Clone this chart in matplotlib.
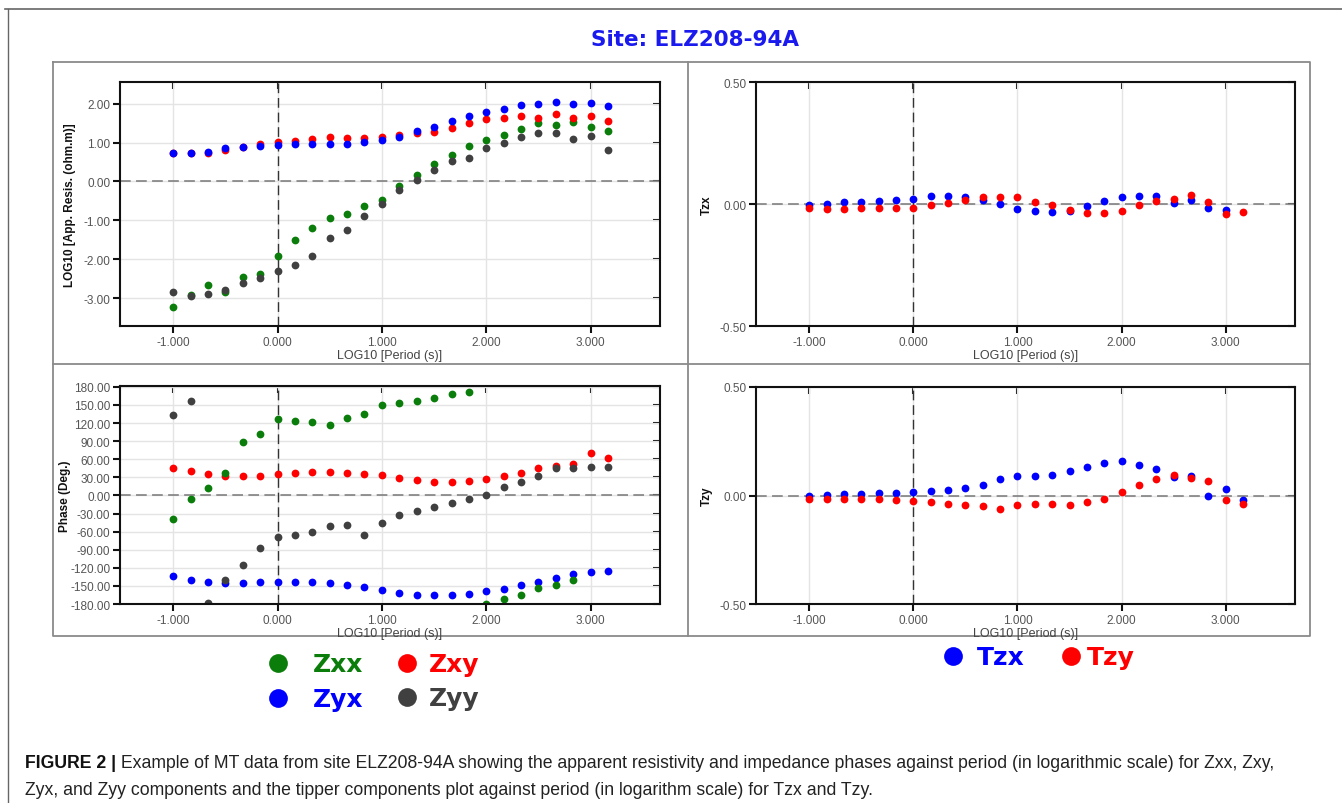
import matplotlib
matplotlib.use('Agg')
import matplotlib.pyplot as plt
import numpy as np

nan = np.nan

# log10 period (s)
period = [-1.0, -0.833, -0.667, -0.5, -0.333, -0.167, 0.0, 0.167, 0.333, 0.5,
          0.667, 0.833, 1.0, 1.167, 1.333, 1.5, 1.667, 1.833, 2.0, 2.167,
          2.333, 2.5, 2.667, 2.833, 3.0, 3.167]

# log10 apparent resistivity
rho_zxx = [-3.23, -2.91, -2.66, -2.85, -2.45, -2.38, -1.91, -1.50, -1.20, -0.94,
           -0.84, -0.64, -0.47, -0.11, 0.17, 0.44, 0.68, 0.90, 1.07, 1.20,
           1.34, 1.50, 1.44, 1.54, 1.41, 1.30]
rho_zxy = [0.72, 0.72, 0.74, 0.81, 0.88, 0.96, 1.02, 1.05, 1.10, 1.15,
           1.12, 1.12, 1.15, 1.19, 1.24, 1.28, 1.38, 1.49, 1.60, 1.62,
           1.67, 1.62, 1.73, 1.64, 1.68, 1.56]
rho_zyx = [0.72, 0.72, 0.76, 0.85, 0.89, 0.90, 0.94, 0.95, 0.97, 0.97,
           0.97, 1.02, 1.06, 1.15, 1.29, 1.41, 1.56, 1.68, 1.79, 1.87,
           1.96, 1.98, 2.03, 1.98, 2.01, 1.94]
rho_zyy = [-2.85, -2.94, -2.90, -2.79, -2.61, -2.49, -2.31, -2.15, -1.91, -1.46,
           -1.26, -0.90, -0.59, -0.23, 0.04, 0.29, 0.52, 0.61, 0.85, 0.99,
           1.15, 1.24, 1.24, 1.09, 1.17, 0.82]

# phase (deg)
ph_zxx = [-39, -5.5, 11.6, 37.5, 88, 102, 126, 124, 121, 117,
          128, 135, 150, 153.5, 156, 162, 169, 171, -180, -172,
          -165, -153.5, -149, -141, nan, nan]
ph_zxy = [46, 41, 36, 33, 32, 32, 36, 36.5, 39, 39,
          37.5, 36, 34, 29, 25, 22.6, 22.6, 24, 28, 32,
          36.5, 45, 48.6, 52, 71, 62]
ph_zyx = [-134, -140, -143.6, -146, -146, -143.6, -143.6, -143.6, -143.6, -145,
          -148.5, -151, -156, -161, -165.6, -165.6, -165.6, -163, -158.5, -154.6,
          -149, -143, -137.5, -131, -127, -125]
ph_zyy = [133, 156, -178, -140, -115, -87, -69, -66, -61, -51,
          -48.6, -65, -46, -32.6, -25.4, -18.8, -12, -6.6, 1, 14,
          23, 32.6, 45, 45, 47.5, 47.5]

# tipper
tzx_blue = [-0.003, 0.001, 0.007, 0.010, 0.014, 0.018, 0.019, 0.031, 0.034, 0.030,
            0.018, -0.001, -0.021, -0.027, -0.034, -0.027, -0.010, 0.014, 0.027, 0.034,
            0.031, 0.004, 0.016, -0.018, -0.023, nan]
tzx_red = [-0.018, -0.021, -0.022, -0.018, -0.018, -0.018, -0.018, -0.004, 0.003, 0.018,
           0.030, 0.027, 0.027, 0.010, -0.004, -0.025, -0.037, -0.037, -0.027, -0.004,
           0.014, 0.021, 0.037, 0.010, -0.041, -0.034]
tzy_blue = [-0.003, 0.003, 0.005, 0.008, 0.012, 0.012, 0.015, 0.020, 0.025, 0.035,
            0.050, 0.074, 0.088, 0.091, 0.095, 0.114, 0.132, 0.152, 0.160, 0.140,
            0.121, 0.086, 0.089, -0.003, 0.028, -0.022]
tzy_red = [-0.015, -0.015, -0.015, -0.015, -0.015, -0.020, -0.025, -0.031, -0.038, -0.045,
           -0.049, -0.060, -0.046, -0.038, -0.038, -0.046, -0.031, -0.015, 0.015, 0.049,
           0.075, 0.094, 0.080, 0.068, -0.020, -0.040]

xticks = [-1, 0, 1, 2, 3]
GREEN, RED, BLUE, GREY = '#0a7d0a', '#ff0000', '#0000ff', '#404040'

W, H = 1342, 804
fig = plt.figure(figsize=(W / 100, H / 100), dpi=100)
plt.rcParams['font.family'] = ['Liberation Sans', 'DejaVu Sans']


def px(l, t, r, b):
    return [l / W, 1 - b / H, (r - l) / W, (b - t) / H]


def style(ax, ylim, yticks, yfmt, ylabel, label_x):
    ax.set_xlim(-1.51, 3.665)
    ax.set_ylim(*ylim)
    ax.set_xticks(xticks)
    ax.set_xticklabels(['%.3f' % v for v in xticks])
    ax.set_yticks(yticks)
    ax.set_yticklabels([yfmt % v for v in yticks])
    ax.grid(True, color='#e4e4e4', lw=1)
    ax.set_axisbelow(True)
    ax.axhline(0, color='#777777', lw=1.1, dashes=(7, 3.5), zorder=1)
    ax.axvline(0, color='#333333', lw=1.0, dashes=(7, 3.5), zorder=1)
    for s in ax.spines.values():
        s.set_linewidth(1.5)
        s.set_color('#111111')
    ax.tick_params(direction='out', length=5, width=1.5, colors='#111111',
                   labelcolor='#555555', labelsize=8.5, pad=2)
    top = ax.secondary_xaxis('top')
    top.set_xticks(xticks)
    top.set_xticklabels([])
    top.tick_params(direction='in', length=5, width=1.5)
    top.spines['top'].set_visible(False)
    right = ax.secondary_yaxis('right')
    right.set_yticks(yticks)
    right.set_yticklabels([])
    right.tick_params(direction='in', length=5, width=1.5)
    right.spines['right'].set_visible(False)
    ax.set_xlabel('LOG10 [Period (s)]', fontsize=9, color='#444444', labelpad=1)
    ax.set_ylabel(ylabel, fontsize=8.5, fontweight='bold', color='#111111')
    ax.yaxis.set_label_coords(label_x, 0.5)


ms = 5.6

# apparent resistivity
ax1 = fig.add_axes(px(120, 83, 660, 327))
ax1.plot(period, rho_zxx, 'o', color=GREEN, ms=ms, mew=0)
ax1.plot(period, rho_zyy, 'o', color=GREY, ms=ms, mew=0)
ax1.plot(period, rho_zxy, 'o', color=RED, ms=ms, mew=0)
ax1.plot(period, rho_zyx, 'o', color=BLUE, ms=ms, mew=0)
style(ax1, (-3.718, 2.556), [-3, -2, -1, 0, 1, 2], '%.2f',
      'LOG10 [App. Resis. (ohm.m)]', -0.082)

# phase
ax2 = fig.add_axes(px(120, 387, 660, 605))
ax2.plot(period, ph_zxy, 'o', color=RED, ms=ms, mew=0)
ax2.plot(period, ph_zyx, 'o', color=BLUE, ms=ms, mew=0)
ax2.plot(period, ph_zxx, 'o', color=GREEN, ms=ms, mew=0)
ax2.plot(period, ph_zyy, 'o', color=GREY, ms=ms, mew=0)
style(ax2, (-180, 181.5), list(range(-180, 181, 30)), '%.2f', 'Phase (Deg.)', -0.09)

# tipper Tzx
ax3 = fig.add_axes(px(756, 83, 1295, 327))
ax3.plot(period, tzx_blue, 'o', color=BLUE, ms=ms, mew=0)
ax3.plot(period, tzx_red, 'o', color=RED, ms=ms, mew=0)
style(ax3, (-0.5, 0.5), [-0.5, 0, 0.5], '%.2f', 'Tzx', -0.08)

# tipper Tzy
ax4 = fig.add_axes(px(756, 388, 1295, 605))
ax4.plot(period, tzy_blue, 'o', color=BLUE, ms=ms, mew=0)
ax4.plot(period, tzy_red, 'o', color=RED, ms=ms, mew=0)
style(ax4, (-0.5, 0.5), [-0.5, 0, 0.5], '%.2f', 'Tzy', -0.08)

# overlay in pixel coordinates for frames, legends, title and caption
bg = fig.add_axes([0, 0, 1, 1], zorder=-1)
bg.set_xlim(0, W)
bg.set_ylim(H, 0)
bg.axis('off')
lc = '#8a8a8a'
bg.plot([5, W], [10, 10], color='#666666', lw=1.2)
bg.plot([8, 8], [10, H], color='#666666', lw=1.0)
bg.plot([53, 1310, 1310, 53, 53], [63, 63, 637, 637, 63], color=lc, lw=1.3)
bg.plot([688, 688], [63, 637], color=lc, lw=1.3)
bg.plot([53, 1310], [365, 365], color=lc, lw=1.3)

bg.text(695, 40, 'Site: ELZ208-94A', color='#1a1aee', fontsize=15.5,
        fontweight='bold', family='DejaVu Sans', ha='center', va='center')

leg = [('Zxx', GREEN, 278, 313, 664), ('Zxy', RED, 407, 429, 664),
       ('Zyx', BLUE, 278, 313, 699), ('Zyy', GREY, 407, 429, 698),
       ('Tzx', BLUE, 953, 977, 657), ('Tzy', RED, 1071, 1087, 657)]
for name, c, mx, tx, y in leg:
    bg.plot(mx, y, 'o', color=c, ms=13.5, mew=0)
    bg.text(tx, y + 1, name, color=c, fontsize=18, fontweight='bold',
            family='DejaVu Sans', ha='left', va='center')

cap_size = 12.7
t1 = bg.text(25, 768, 'FIGURE 2 |', fontsize=cap_size, fontweight='bold',
             ha='left', va='baseline', color='#111111')
bg.annotate(' Example of MT data from site ELZ208-94A showing the apparent resistivity '
            'and impedance phases against period (in logarithmic scale) for Zxx, Zxy,',
            xy=(1, 0), xycoords=t1, va='bottom', ha='left', fontsize=cap_size,
            color='#222222')
bg.text(25, 795, 'Zyx, and Zyy components and the tipper components plot against '
        'period (in logarithm scale) for Tzx and Tzy.', fontsize=cap_size,
        ha='left', va='baseline', color='#222222')

fig.savefig('out.png', dpi=100)
